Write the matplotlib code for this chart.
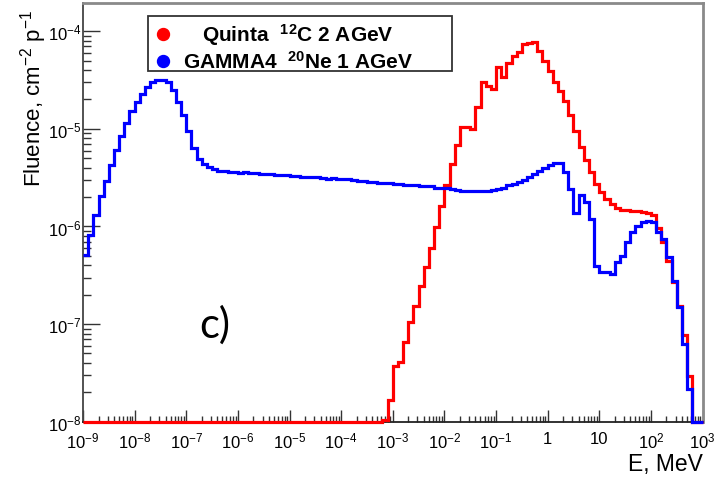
import numpy as np
import matplotlib.pyplot as plt
from matplotlib.patches import Rectangle
from matplotlib.ticker import FixedLocator, FixedFormatter, NullFormatter

plt.rcParams['font.family'] = ['Liberation Sans', 'DejaVu Sans']
plt.rcParams['mathtext.fontset'] = 'custom'
plt.rcParams['mathtext.rm'] = 'Liberation Sans'
plt.rcParams['mathtext.bf'] = 'Liberation Sans:bold'
plt.rcParams['mathtext.it'] = 'Liberation Sans:italic'

# energy bins: 10 per decade from 1e-9 to 1e3 MeV
e_edges = np.logspace(-9, 3, 121)

# neutron fluence per bin, cm^-2 per primary
quinta_c12 = [0.0] * 58 + [
    1.05e-8, 1.67e-8, 3.75e-8, 4.06e-8, 6.61e-8, 1.04e-7, 1.55e-7, 2.47e-7, 3.82e-7, 6.03e-7,
    9.96e-7, 1.63e-6, 2.66e-6, 4.33e-6, 6.76e-6, 1.05e-5, 1.04e-5, 9.97e-6, 1.66e-5, 3.00e-5,
    2.72e-5, 2.54e-5, 4.26e-5, 3.40e-5, 4.73e-5, 5.58e-5, 6.14e-5, 7.41e-5, 7.58e-5, 7.82e-5,
    6.32e-5, 5.00e-5, 3.94e-5, 3.00e-5, 2.46e-5, 1.91e-5, 1.39e-5, 9.60e-6, 6.47e-6, 4.80e-6,
    3.59e-6, 2.72e-6, 2.24e-6, 1.91e-6, 1.70e-6, 1.55e-6, 1.48e-6, 1.46e-6, 1.45e-6, 1.44e-6,
    1.42e-6, 1.39e-6, 1.31e-6, 9.67e-7, 6.93e-7, 4.44e-7, 2.73e-7, 1.53e-7, 7.72e-8, 2.94e-8,
    0.0, 0.0,
]
gamma4_ne20 = [
    5.14e-7, 8.24e-7, 1.31e-6, 2.04e-6, 2.94e-6, 4.26e-6, 6.12e-6, 8.51e-6, 1.15e-5, 1.51e-5,
    1.90e-5, 2.28e-5, 2.70e-5, 3.00e-5, 3.13e-5, 3.13e-5, 3.00e-5, 2.51e-5, 1.90e-5, 1.39e-5,
    9.60e-6, 6.32e-6, 4.92e-6, 4.36e-6, 4.05e-6, 3.88e-6, 3.73e-6, 3.66e-6, 3.62e-6, 3.59e-6,
    3.57e-6, 3.59e-6, 3.53e-6, 3.50e-6, 3.45e-6, 3.45e-6, 3.41e-6, 3.37e-6, 3.37e-6, 3.35e-6,
    3.31e-6, 3.29e-6, 3.25e-6, 3.19e-6, 3.18e-6, 3.18e-6, 3.12e-6, 3.10e-6, 3.12e-6, 3.03e-6,
    3.03e-6, 3.07e-6, 2.99e-6, 2.94e-6, 2.92e-6, 2.85e-6, 2.83e-6, 2.82e-6, 2.79e-6, 2.79e-6,
    2.75e-6, 2.72e-6, 2.66e-6, 2.64e-6, 2.63e-6, 2.60e-6, 2.58e-6, 2.57e-6, 2.50e-6, 2.46e-6,
    2.45e-6, 2.42e-6, 2.36e-6, 2.33e-6, 2.33e-6, 2.30e-6, 2.30e-6, 2.31e-6, 2.30e-6, 2.36e-6,
    2.42e-6, 2.50e-6, 2.66e-6, 2.72e-6, 2.83e-6, 2.99e-6, 3.19e-6, 3.45e-6, 3.73e-6, 3.97e-6,
    4.22e-6, 4.48e-6, 4.46e-6, 3.59e-6, 2.42e-6, 1.36e-6, 2.10e-6, 1.77e-6, 1.19e-6, 3.91e-7,
    3.40e-7, 3.40e-7, 3.26e-7, 4.36e-7, 4.96e-7, 6.98e-7, 8.85e-7, 1.00e-6, 1.10e-6, 1.14e-6,
    1.10e-6, 8.85e-7, 7.45e-7, 4.83e-7, 2.79e-7, 1.49e-7, 6.25e-8, 2.16e-8, 0.0, 0.0,
]

labels = [r'Quinta  $^{\mathbf{12}}$C 2 AGeV', r'GAMMA4  $^{\mathbf{20}}$Ne 1 AGeV']
colors = ['#ff0000', '#0000ff']

x_ticks = [10.0 ** k for k in range(-9, 4)]
x_ticklabels = [r'$10^{%d}$' % k for k in range(-9, 0)] + ['1', '10', r'$10^{2}$', r'$10^{3}$']
y_ticks = [10.0 ** k for k in range(-8, -3)]
y_ticklabels = [r'$10^{%d}$' % k for k in range(-8, -3)]

y_min, y_max = 1e-8, 1.97e-4

fig = plt.figure(figsize=(7.22, 4.81), dpi=100)
ax = fig.add_axes([0.115, 0.1212, 0.858, 0.8715])
ax.set_xscale('log')
ax.set_yscale('log')

# empty bins sit on the frame minimum, like ROOT draws them
for vals, col in zip([quinta_c12, gamma4_ne20], colors):
    ax.stairs(np.maximum(vals, y_min), e_edges, color=col, lw=2.3,
              baseline=None, clip_on=False, zorder=3)

ax.set_xlim(1e-9, 1e3)
ax.set_ylim(y_min, y_max)

minor_x = [m * 10.0 ** k for k in range(-9, 3) for m in range(2, 10)]
minor_y = [m * 10.0 ** k for k in range(-8, -3) for m in range(2, 10)]
ax.xaxis.set_major_locator(FixedLocator(x_ticks))
ax.xaxis.set_major_formatter(FixedFormatter(x_ticklabels))
ax.xaxis.set_minor_locator(FixedLocator(minor_x))
ax.xaxis.set_minor_formatter(NullFormatter())
ax.yaxis.set_major_locator(FixedLocator(y_ticks))
ax.yaxis.set_major_formatter(FixedFormatter(y_ticklabels))
ax.yaxis.set_minor_locator(FixedLocator(minor_y))
ax.yaxis.set_minor_formatter(NullFormatter())

ax.tick_params(axis='x', which='major', direction='in', length=8.5, width=1.0,
               color='#333333', labelsize=12, pad=6.5)
ax.tick_params(axis='x', which='minor', direction='in', length=4.3, width=1.0, color='#333333')
ax.tick_params(axis='y', which='major', direction='in', length=12, width=1.0,
               color='#333333', labelsize=12, pad=1)
ax.tick_params(axis='y', which='minor', direction='in', length=6, width=1.0, color='#333333')

ax.spines['left'].set_color('#444444')
ax.spines['left'].set_linewidth(1.3)
ax.spines['bottom'].set_color('#222222')
ax.spines['bottom'].set_linewidth(1.3)
for side in ['top', 'right']:
    ax.spines[side].set_color('#8a8a8a')
    ax.spines[side].set_linewidth(2.0)

ax.set_xlabel('E, MeV', fontsize=16.5, loc='right', labelpad=1)
ax.set_ylabel(r'Fluence, cm$^{-2}$ p$^{-1}$', fontsize=16)
ax.yaxis.label.set_horizontalalignment('right')
ax.yaxis.set_label_coords(-0.055, 0.985)

# legend box with centred entries
ax.add_patch(Rectangle((0.105, 0.836), 0.491, 0.131, transform=ax.transAxes,
                       facecolor='white', edgecolor='#333333', lw=1.3, zorder=5))
for yy, lab, col in zip([0.925, 0.860], labels, colors):
    ax.plot([0.129], [yy], 'o', color=col, ms=8.6, transform=ax.transAxes,
            clip_on=False, zorder=6)
    ax.text(0.347, yy, lab, transform=ax.transAxes, fontsize=15, fontweight='bold',
            ha='center', va='center', zorder=6)

ax.text(0.187, 0.233, 'c)', transform=ax.transAxes, fontsize=30, family='Lato',
        ha='left', va='center')

fig.savefig('out.png', dpi=100)
